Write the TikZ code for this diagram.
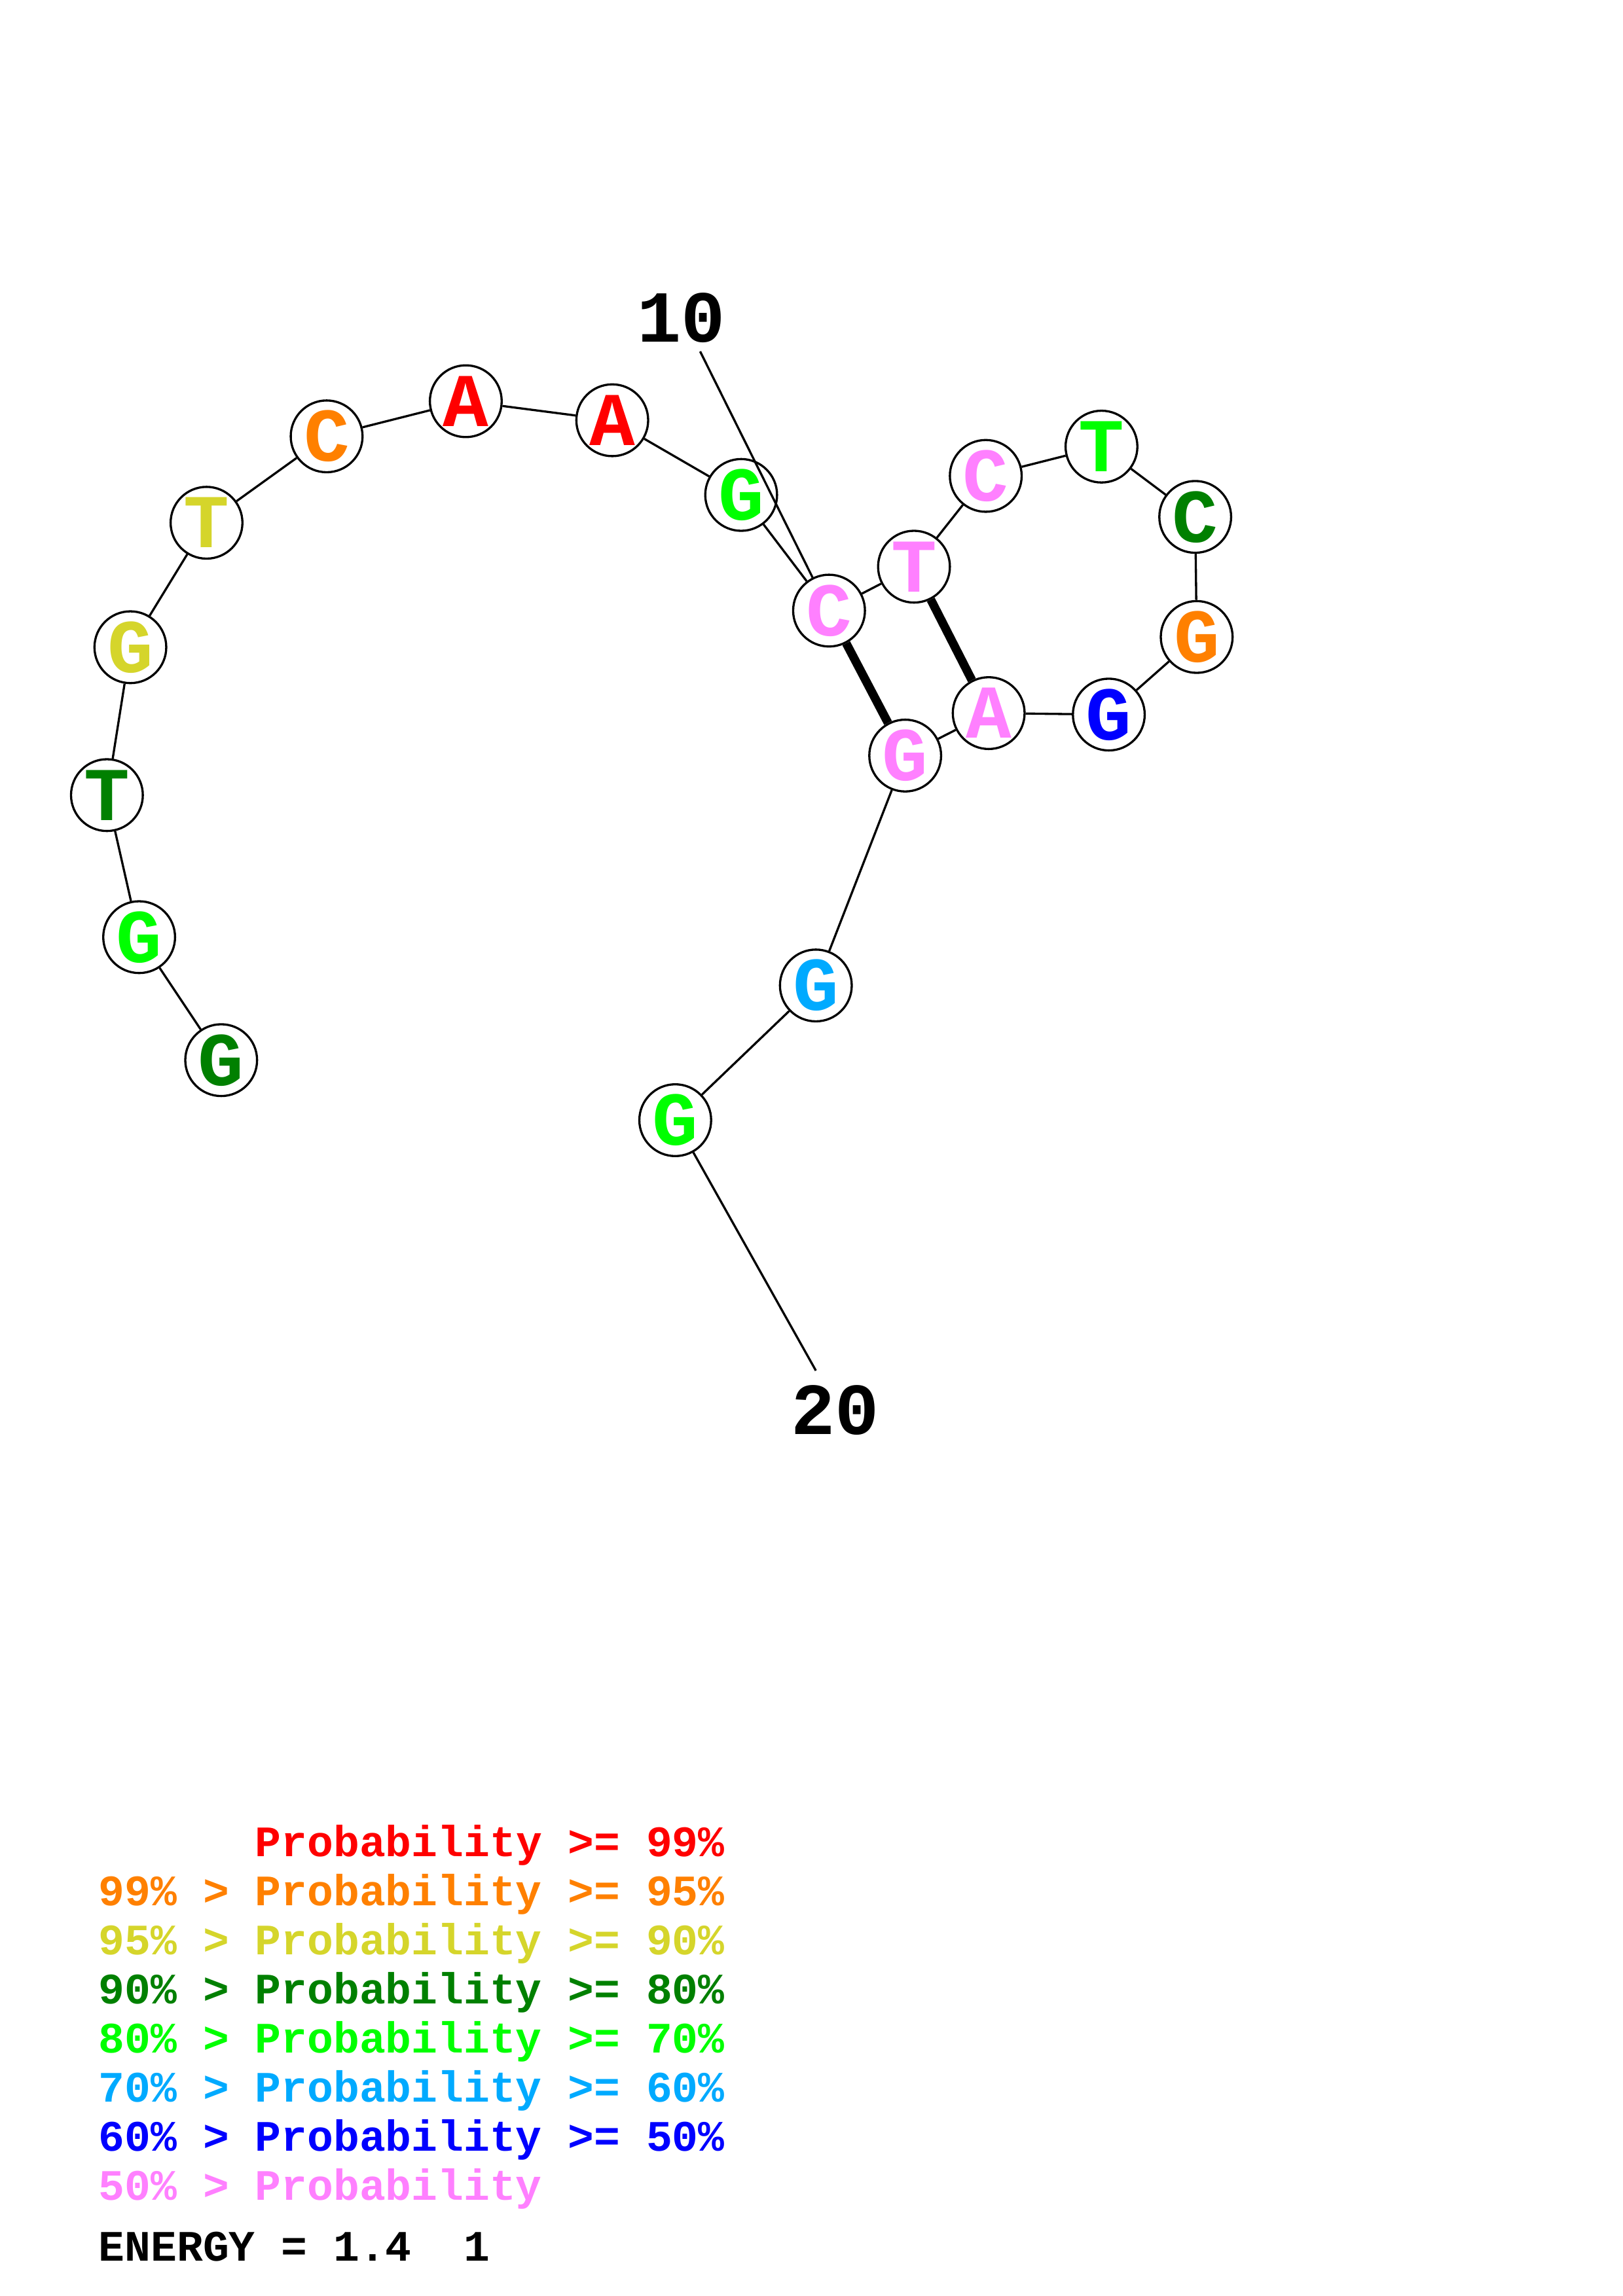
\documentclass[tikz,border=0pt]{standalone}
\usepackage{fontspec}
\setmainfont{Liberation Mono}
\definecolor{cRed}{RGB}{255,0,0}
\definecolor{cOrange}{RGB}{255,128,0}
\definecolor{cYellow}{RGB}{213,213,43}
\definecolor{cDGreen}{RGB}{0,128,0}
\definecolor{cGreen}{RGB}{0,255,0}
\definecolor{cCyan}{RGB}{0,170,255}
\definecolor{cBlue}{RGB}{0,0,255}
\definecolor{cPink}{RGB}{255,128,255}
\begin{document}
\begin{tikzpicture}[x=0.18953mm,y=-0.18953mm,
  base/.style={circle,draw=black,line width=0.8pt,fill=white,minimum size=9.29mm,inner sep=0pt,
    font=\fontsize{28}{28}\selectfont\bfseries},
  bond/.style={line width=0.8pt},
  pairbond/.style={line width=3.2pt},
  numlab/.style={font=\fontsize{27}{27}\selectfont\bfseries,inner sep=0pt},
  legend/.style={anchor=base west,inner sep=0pt,font=\fontsize{16}{16}\selectfont\bfseries}]
\useasboundingbox (0,0) rectangle (1108,1568);
\coordinate (e10) at (478,240);
\coordinate (e20) at (557,936);
\node[base,text=cDGreen] (n1) at (151,724) {G};
\node[base,text=cGreen] (n2) at (95,640) {G};
\node[base,text=cDGreen] (n3) at (73,543) {T};
\node[base,text=cYellow] (n4) at (89,442) {G};
\node[base,text=cYellow] (n5) at (141,357) {T};
\node[base,text=cOrange] (n6) at (223,298) {C};
\node[base,text=cRed] (n7) at (318,274) {A};
\node[base,text=cRed] (n8) at (418,287) {A};
\node[base,text=cGreen] (n9) at (506,338) {G};
\node[base,text=cPink] (n10) at (566,417) {C};
\node[base,text=cPink] (n11) at (624,387) {T};
\node[base,text=cPink] (n12) at (673,325) {C};
\node[base,text=cGreen] (n13) at (752,305) {T};
\node[base,text=cDGreen] (n14) at (816,353) {C};
\node[base,text=cOrange] (n15) at (817,435) {G};
\node[base,text=cBlue] (n16) at (757,488) {G};
\node[base,text=cPink] (n17) at (675,487) {A};
\node[base,text=cPink] (n18) at (618,516) {G};
\node[base,text=cCyan] (n19) at (557,673) {G};
\node[base,text=cGreen] (n20) at (461,765) {G};
\foreach \a/\b in {n1/n2,n2/n3,n3/n4,n4/n5,n5/n6,n6/n7,n7/n8,n8/n9,n9/n10,n10/n11,n11/n12,n12/n13,n13/n14,n14/n15,n15/n16,n16/n17,n17/n18,n18/n19,n19/n20}
  \draw[bond] (\a) -- (\b);
\draw[pairbond] (n10) -- (n18);
\draw[pairbond] (n11) -- (n17);
\draw[bond] (e10) -- (n10);
\draw[bond] (n20) -- (e20);
\node[numlab] (l10) at (465,217) {10};
\node[numlab] (l20) at (570,963) {20};
% legend
\node[legend,text=cRed] (g1) at (67,1268) {\hphantom{99\% > }Probability >= 99\%};
\node[legend,text=cOrange] (g2) at (67,1301.5) {99\% > Probability >= 95\%};
\node[legend,text=cYellow] (g3) at (67,1335) {95\% > Probability >= 90\%};
\node[legend,text=cDGreen] (g4) at (67,1368.5) {90\% > Probability >= 80\%};
\node[legend,text=cGreen] (g5) at (67,1402) {80\% > Probability >= 70\%};
\node[legend,text=cCyan] (g6) at (67,1435.5) {70\% > Probability >= 60\%};
\node[legend,text=cBlue] (g7) at (67,1469) {60\% > Probability >= 50\%};
\node[legend,text=cPink] (g8) at (67,1502.5) {50\% > Probability};
\node[legend,text=black] (en) at (67,1544) {ENERGY = 1.4\ \ 1};
\end{tikzpicture}
\end{document}
